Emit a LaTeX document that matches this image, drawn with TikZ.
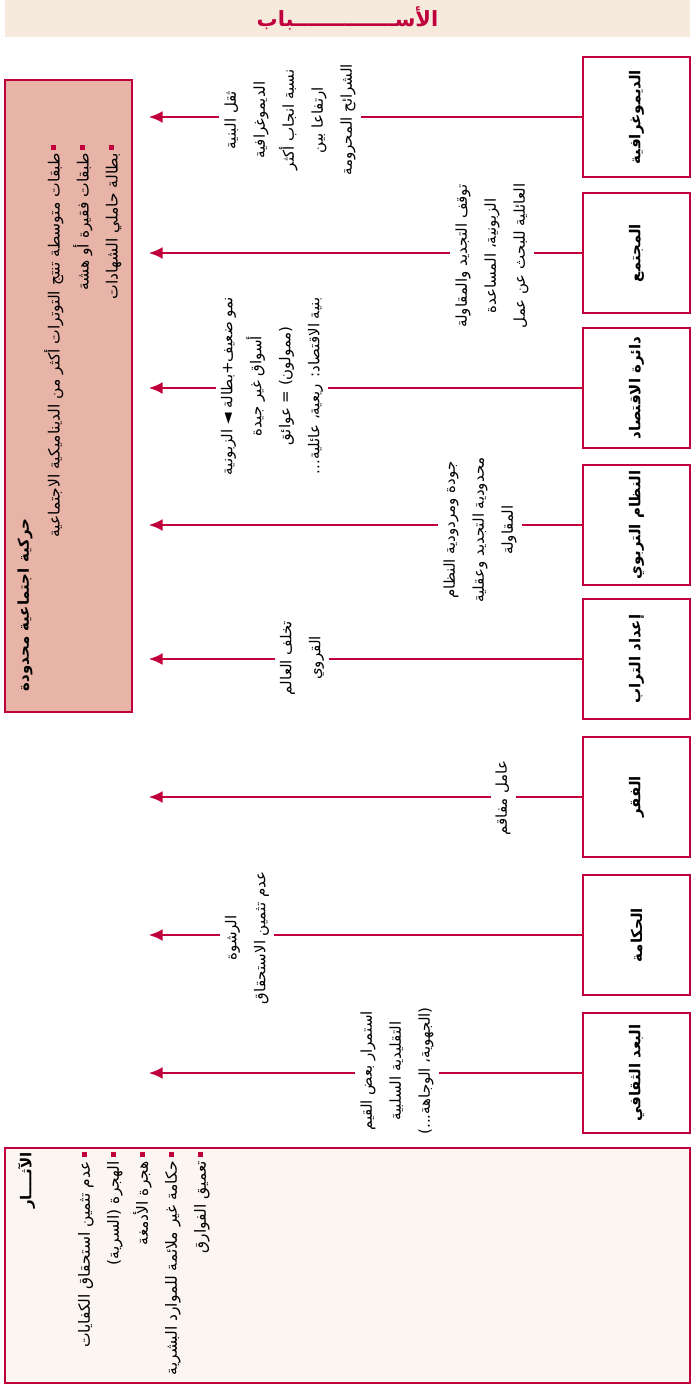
\documentclass[tikz,border=0pt]{standalone}
\usepackage{fontspec}
\newfontfamily\arabicfont[Script=Arabic]{DejaVu Sans}
\TeXXeTstate=1
\usetikzlibrary{arrows,arrows.meta,positioning,calc}
\definecolor{causered}{HTML}{C0003C}
\definecolor{headfill}{HTML}{F6EADC}
\definecolor{mobfill}{HTML}{E8B4A8}
\definecolor{effectfill}{HTML}{FBF6F2}
\newcommand{\ar}[1]{{\arabicfont\beginR #1\endR}}
\begin{document}
\begin{tikzpicture}[x=1pt,y=-1pt,>={Latex[length=14pt,width=12pt]},
  cause/.style={draw=causered,line width=1.2pt,fill=white,minimum width=107pt,minimum height=120pt,inner sep=0pt,font=\fontsize{15}{18}\bfseries},
  panel/.style={draw=causered,line width=1.2pt,inner sep=0pt},
  lab/.style={rotate=90,fill=white,align=center,font=\fontsize{15}{29}\selectfont,inner sep=5pt},
  link/.style={->,draw=causered,line width=2.6pt,shorten >=16pt},
  list/.style={rotate=90,align=right,font=\fontsize{15.5}{29}\selectfont,inner sep=0pt},
  bullet/.style={fill=causered,minimum size=5pt,inner sep=0pt}]
\useasboundingbox (0,0) rectangle (692,1390);

% header
\node [fill=headfill,minimum width=685pt,minimum height=37pt,inner sep=0pt,text=causered,font=\fontsize{21}{24}\bfseries] (head) at (347.5,18.5) {\ar{الأســــــــــــــباب}};

% panels
\node [panel,fill=mobfill,minimum width=127pt,minimum height=632pt] (mob) at (68.5,396) {};
\node [panel,fill=effectfill,minimum width=685pt,minimum height=235pt] (eff) at (347.5,1265.5) {};

% causes
\node [cause] (demo) at (636.5,117) {\rotatebox{90}{\ar{الديموغرافية}}};
\node [cause] (soc) at (636.5,253) {\rotatebox{90}{\ar{المجتمع}}};
\node [cause] (eco) at (636.5,388) {\rotatebox{90}{\ar{دائرة الاقتصاد}}};
\node [cause] (edu) at (636.5,525) {\rotatebox{90}{\ar{النظام التربوي}}};
\node [cause] (terr) at (636.5,659) {\rotatebox{90}{\ar{إعداد التراب}}};
\node [cause] (pov) at (636.5,797) {\rotatebox{90}{\ar{الفقر}}};
\node [cause] (gov) at (636.5,935) {\rotatebox{90}{\ar{الحكامة}}};
\node [cause] (cult) at (636.5,1073) {\rotatebox{90}{\ar{البعد الثقافي}}};

\draw [link] (demo.west) -- (demo.west -| mob.east);
\draw [link] (soc.west) -- (soc.west -| mob.east);
\draw [link] (eco.west) -- (eco.west -| mob.east);
\draw [link] (edu.west) -- (edu.west -| mob.east);
\draw [link] (terr.west) -- (terr.west -| mob.east);
\draw [link] (pov.west) -- (pov.west -| mob.east);
\draw [link] (gov.west) -- (gov.west -| mob.east);
\draw [link] (cult.west) -- (cult.west -| mob.east);

% labels on the links
\node [lab] (l1) at (290,120) {\ar{ثقل البنية}\\\ar{الديموغرافية}\\\ar{نسبة انجاب أكثر}\\\ar{ارتفاعا بين}\\\ar{الشرائح المحرومة}};
\node [lab] (l2) at (492,256) {\ar{توقف التجديد والمقاولة}\\\ar{الزبونية، المساعدة}\\\ar{العائلية للبحث عن عمل}};
\node [lab] (l3) at (272,386) {\ar{نمو ضعيف+بطالة ◄ الزبونية}\\\ar{أسواق غير جيدة}\\\ar{(ممولون) = عوائق}\\\ar{بنية الاقتصاد: ريعية، عائلية...}};
\node [lab] (l4) at (480,530) {\ar{جودة ومردودية النظام}\\\ar{محدودية التجديد وعقلية}\\\ar{المقاولة}};
\node [lab] (l5) at (302,658) {\ar{تخلف العالم}\\\ar{القروي}};
\node [lab] (l6) at (503,798) {\ar{عامل مفاقم}};
\node [lab] (l7) at (247,938) {\ar{الرشوة}\\\ar{عدم تثمين الاستحقاق}};
\node [lab] (l8) at (397,1071) {\ar{استمرار بعض القيم}\\\ar{التقليدية السلبية}\\\ar{(الجهوية، الوجاهة...)}};

% effect panel texts
\node [list,font=\fontsize{15}{29}\bfseries] (mobtitle) at (25,605) {\ar{حركية اجتماعية محدودة}};
\node [list,anchor=north east] (moblist) at (44,153) {\ar{طبقات متوسطة تنتج التوترات أكثر من الديناميكية الاجتماعية}\\\ar{طبقات فقيرة أو هشة}\\\ar{بطالة حاملي الشهادات}};
\node [bullet] (mb1) at (53,147) {};
\node [bullet] (mb2) at (82,147) {};
\node [bullet] (mb3) at (111,147) {};

\node [list,font=\fontsize{15}{29}\bfseries,anchor=north east] (efftitle) at (18,1152) {\ar{الآثــــار}};
\node [list,anchor=north east] (efflist) at (78,1161) {\ar{عدم تثمين استحقاق الكفايات}\\\ar{الهجرة (السرية)}\\\ar{هجرة الأدمغة}\\\ar{حكامة غير ملائمة للموارد البشرية}\\\ar{تعميق الفوارق}};
\node [bullet] (eb1) at (84,1154) {};
\node [bullet] (eb2) at (113,1154) {};
\node [bullet] (eb3) at (142,1154) {};
\node [bullet] (eb4) at (171,1154) {};
\node [bullet] (eb5) at (200,1154) {};
\end{tikzpicture}
\end{document}
